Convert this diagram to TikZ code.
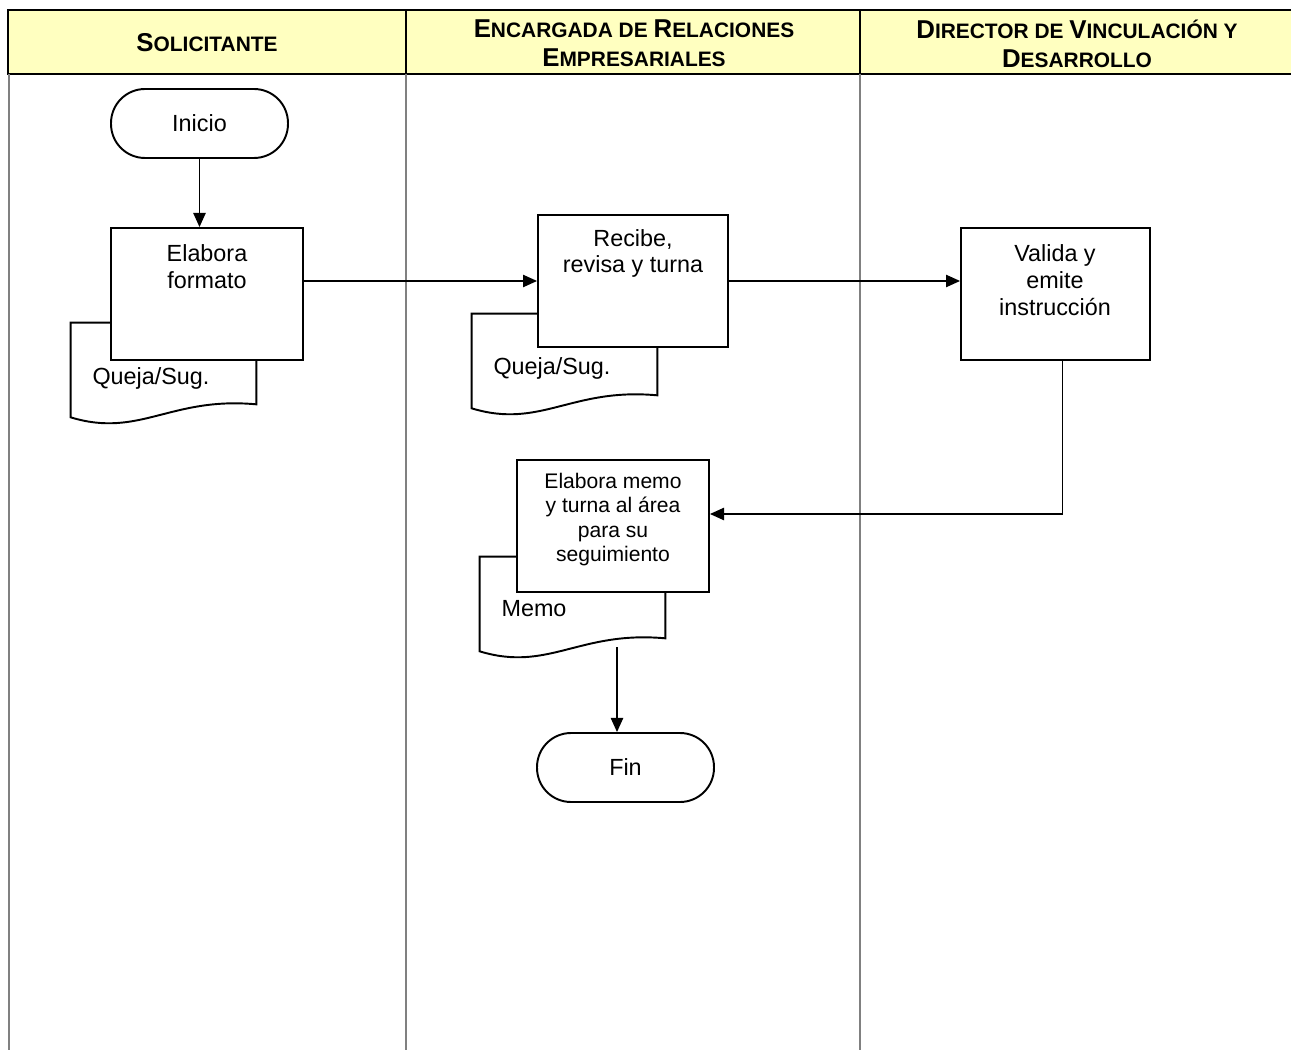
\documentclass[tikz,border=0pt]{standalone}
\usepackage{fontspec}
\setmainfont{Liberation Sans}
\usepackage{tikz}
\usetikzlibrary{positioning, calc, arrows.meta}
\definecolor{laneyellow}{RGB}{255,255,192}
\definecolor{lanegray}{RGB}{128,128,128}
\newcommand{\hcap}[1]{{\fontsize{14.7pt}{16.4pt}\selectfont #1}}

\begin{document}
\begin{tikzpicture}[
            x=0.02cm, y=-0.02cm,
            header/.style={font=\bfseries\fontsize{11.9pt}{16.4pt}\selectfont, align=center, inner sep=0pt},
            lane/.style={draw=lanegray, line width=0.6pt},
            terminal/.style={draw, fill=white, line width=1.1pt, rounded corners=0.68cm, minimum width=3.54cm, minimum height=1.38cm, font=\fontsize{13.3pt}{15.3pt}\selectfont},
            process/.style={draw, fill=white, line width=1.1pt, minimum width=3.84cm, minimum height=2.64cm},
            txt/.style={align=center, font=\fontsize{13.3pt}{15.3pt}\selectfont, inner sep=0pt},
            smalltxt/.style={txt, font=\fontsize{12pt}{13.8pt}\selectfont},
            document/.style={minimum width=3.7cm, minimum height=1.62cm, inner sep=0pt},
            docline/.style={draw, fill=white, line width=1.1pt},
            flow/.style={-{Triangle[length=8pt, width=7pt]}, line width=0.85pt}
        ]
            \useasboundingbox (0,0) rectangle (1291,1050);

            % --- Swimlanes ---
            \fill[laneyellow] (8,10) rectangle (1291,74);
            \draw[line width=1.1pt] (1291,10) -- (8,10) -- (8,74) -- (1291,74);
            \draw[line width=1.1pt] (406,10) -- (406,74) (860,10) -- (860,74);
            \draw[lane] (9,74) -- (9,1050) (406,74) -- (406,1050) (860,74) -- (860,1050);
            \node[header] (hsol) at (207,43) {\hcap{S}OLICITANTE};
            \node[header] (henc) at (634,43.5) {\hcap{E}NCARGADA DE \hcap{R}ELACIONES\\\hcap{E}MPRESARIALES};
            \node[header] (hdir) at (1077,43.5) {\hcap{D}IRECTOR DE \hcap{V}INCULACIÓN Y\\\hcap{D}ESARROLLO};

            % --- Documents ---
            \node[document] (dq1) at (163.5,363.5) {};
            \node[document] (dq2) at (564.5,354.5) {};
            \node[document] (dmemo) at (572.5,597.5) {};
            \foreach \d in {dq1, dq2, dmemo}
              \draw[docline] (\d.north west) -- ($(\d.south west)+(0,13)$) .. controls +(69,21) and +(-86,-8) .. (\d.south east) -- (\d.north east) -- cycle;
            \node[txt] (tq1) at (151,378) {Queja/Sug.};
            \node[txt] (tq2) at (552,368) {Queja/Sug.};
            \node[txt] (tmemo) at (534,609) {Memo};

            % --- Steps ---
            \node[terminal] (inicio) at (199.5,123.5) {Inicio};
            \node[process] (elab) at (207,294) {};
            \node[process, minimum width=3.8cm] (recibe) at (633,281) {};
            \node[process, minimum width=3.78cm] (valida) at (1055.5,294) {};
            \node[process] (memo) at (613,526) {};
            \node[terminal] (fin) at (625.5,767.5) {Fin};

            \node[txt] (telab) at (207,266.5) {Elabora\\formato};
            \node[txt] (trecibe) at (633,253.5) {Recibe,\\revisa y turna};
            \node[txt] (tvalida) at (1055,280.5) {Valida y\\emite\\instrucción};
            \node[smalltxt] (tmemobox) at (613,519.5) {Elabora memo\\y turna al área\\para su\\seguimiento};

            % --- Flow ---
            \draw[flow] (inicio) -- (inicio |- elab.north);
            \draw[flow] (elab.east |- recibe.west) -- (recibe.west);
            \draw[flow] (recibe.east) -- (valida.west |- recibe.east);
            \draw[flow] ($(valida.south)+(7,0)$) |- ($(memo.east)+(0,-12)$);
            \coordinate (memoout) at (617,647);
            \draw[flow] (memoout) -- (memoout |- fin.north);
        \end{tikzpicture}
\end{document}
